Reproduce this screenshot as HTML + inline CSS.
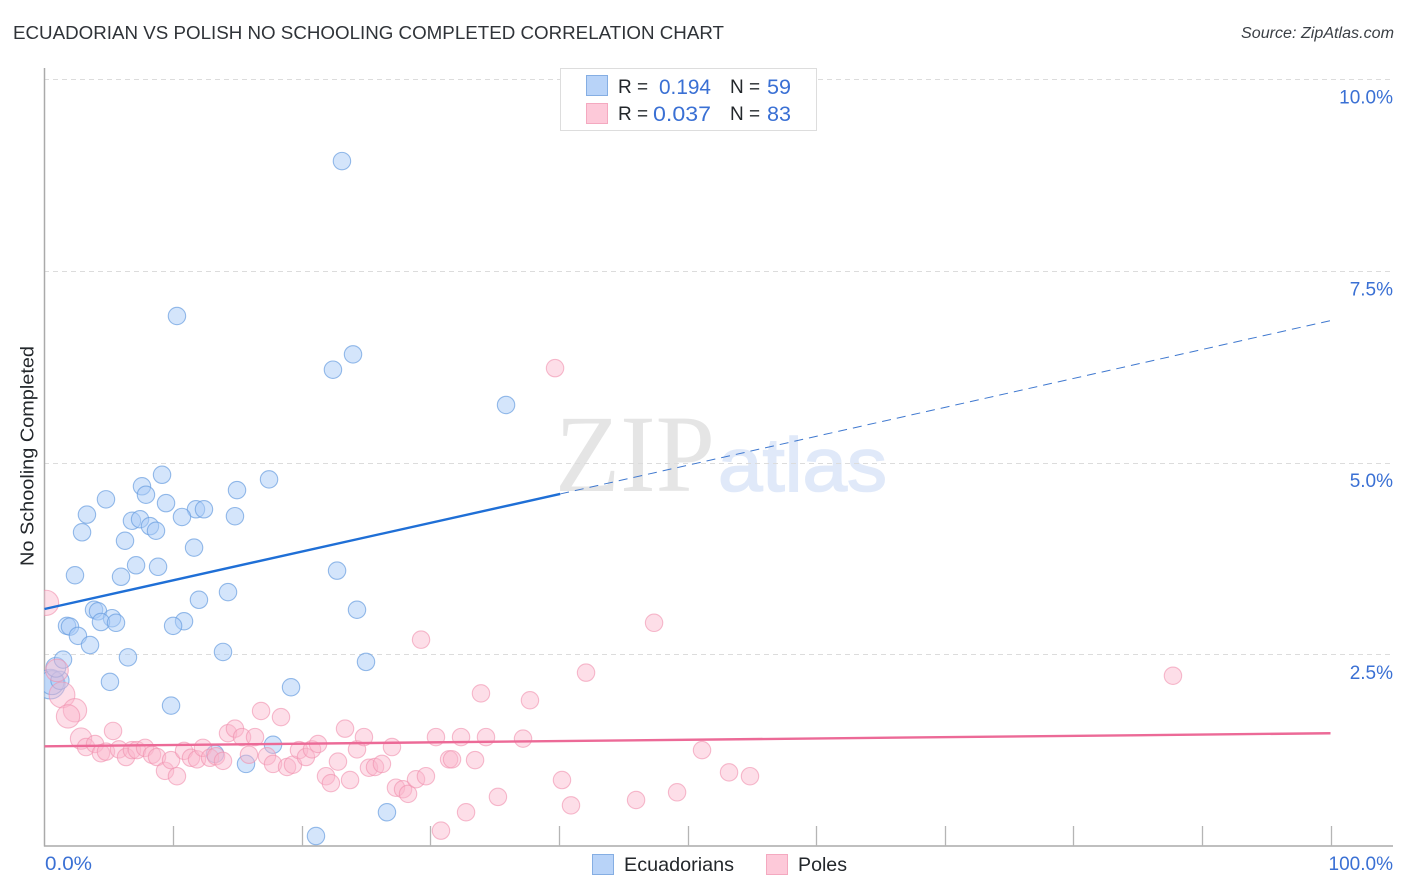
<!DOCTYPE html>
<html lang="en">
<head>
<meta charset="utf-8">
<title>Ecuadorian vs Polish No Schooling Completed Correlation Chart</title>
<style>
html,body{margin:0;padding:0;background:#fff;width:1406px;height:892px;overflow:hidden}
svg{display:block;font-family:"Liberation Sans",sans-serif}
</style>
</head>
<body>
<svg id="chart" width="1406" height="892" viewBox="0 0 1406 892" xmlns="http://www.w3.org/2000/svg">
  <defs>
    <clipPath id="plot-clip"><rect x="44" y="60" width="1360" height="786"/></clipPath>
  </defs>
  <text x="13" y="39" font-size="18.5" fill="#2f3338" textLength="711" lengthAdjust="spacingAndGlyphs">ECUADORIAN VS POLISH NO SCHOOLING COMPLETED CORRELATION CHART</text>
  <text x="1241" y="38" font-size="15.5" font-style="italic" fill="#3a3f45" textLength="153" lengthAdjust="spacingAndGlyphs">Source: ZipAtlas.com</text>
  <g>
    <text x="555" y="491" font-family="'Liberation Serif',serif" font-size="110" fill="#e5e5e5" textLength="160" lengthAdjust="spacingAndGlyphs">ZIP</text>
    <text x="718" y="491" font-size="76" fill="#e0e9f9" stroke="#e0e9f9" stroke-width="1.6" textLength="169" lengthAdjust="spacingAndGlyphs">atlas</text>
  </g>
  <g id="grid"></g>
  <g id="axes"></g>
  <g id="pts-blue" clip-path="url(#plot-clip)"></g>
  <g id="pts-pink" clip-path="url(#plot-clip)"></g>
  <g id="trends"></g>
  <g id="labels"></g>
  <text transform="translate(33.5,566) rotate(-90)" font-size="18.5" fill="#23272b" textLength="220" lengthAdjust="spacingAndGlyphs">No Schooling Completed</text>

  <g>
    <rect x="560.5" y="68.5" width="256" height="62" fill="#fff" stroke="#dddddd"/>
    <rect x="586.5" y="75.5" width="21" height="20" fill="#b8d3f8" stroke="#85aee3"/>
    <rect x="586.5" y="103.5" width="21" height="20" fill="#fdc9d9" stroke="#f4a9c0"/>
    <g font-size="19" fill="#23272b">
      <text x="618" y="93">R =</text>
      <text x="730" y="93">N =</text>
      <text x="618" y="120">R =</text>
      <text x="730" y="120">N =</text>
    </g>
    <g font-size="21" fill="#3a70d4">
      <text x="659" y="94" textLength="52" lengthAdjust="spacingAndGlyphs">0.194</text>
      <text x="767" y="94" textLength="24" lengthAdjust="spacingAndGlyphs">59</text>
      <text x="653" y="121" textLength="58" lengthAdjust="spacingAndGlyphs">0.037</text>
      <text x="767" y="121" textLength="24" lengthAdjust="spacingAndGlyphs">83</text>
    </g>
  </g>

  <g>
    <g>
      <rect x="592.5" y="854.5" width="21" height="20" fill="#b8d3f8" stroke="#85aee3"/>
      <text x="624" y="871" font-size="19.5" fill="#23272b" textLength="110" lengthAdjust="spacingAndGlyphs">Ecuadorians</text>
    </g>
    <g>
      <rect x="766.5" y="854.5" width="21" height="20" fill="#fdc9d9" stroke="#f4a9c0"/>
      <text x="798" y="871" font-size="19.5" fill="#23272b" textLength="49" lengthAdjust="spacingAndGlyphs">Poles</text>
    </g>
  </g>
</svg>
<script>
const yTickValues = [2.5, 5, 7.5, 10];
const yTickLabels = ["2.5%", "5.0%", "7.5%", "10.0%"];
const xTickValues = [10, 20, 30, 40, 50, 60, 70, 80, 90, 100];
const xEndLabels = ["0.0%", "100.0%"];

const ecuadorianX = [0.45,0.58,1.2,0.89,1.44,23.13,10.30,23.99,22.43,35.89,9.14,17.46,7.58,14.97,7.89,4.78,9.45,11.78,12.40,3.30,14.81,10.69,6.80,7.43,8.20,8.67,2.92,6.26,11.63,7.12,8.83,2.37,5.95,22.75,14.27,12.01,24.30,3.85,4.16,5.25,4.39,5.56,10.85,10.0,1.75,1.98,2.60,3.54,6.49,13.88,25.0,5.09,19.17,9.84,13.26,17.77,15.67,26.63,21.11];
const ecuadorianY = [2.11,2.13,2.16,2.33,2.43,8.93,6.91,6.41,6.21,5.75,4.84,4.78,4.69,4.64,4.58,4.52,4.47,4.39,4.39,4.32,4.30,4.29,4.24,4.26,4.17,4.11,4.09,3.98,3.89,3.66,3.64,3.53,3.51,3.59,3.31,3.21,3.08,3.08,3.06,2.97,2.92,2.91,2.93,2.87,2.87,2.86,2.74,2.62,2.46,2.53,2.40,2.14,2.07,1.83,1.20,1.32,1.07,0.44,0.13];
const ecuadorianWeight = [2.9,1.9,1.1,1.3];

const polishX = [0.12,1.36,2.37,1.83,2.84,0.97,39.70,47.40,29.28,42.11,87.75,33.94,37.75,16.84,18.39,5.33,3.23,3.93,4.39,4.78,5.79,6.34,6.80,7.19,7.82,8.36,8.75,9.37,9.84,10.30,10.85,11.39,11.86,12.32,12.87,13.34,13.88,14.27,14.81,15.36,15.90,16.37,17.30,17.77,18.86,19.32,19.79,20.33,20.80,21.27,21.89,22.27,22.82,23.37,23.76,24.30,24.84,25.23,25.70,26.24,27.02,27.33,27.88,28.27,28.89,29.66,30.44,30.83,31.46,31.69,32.39,32.78,33.48,34.33,35.26,37.21,40.24,40.94,46.0,49.19,51.13,53.23,54.86];
const polishY = [3.17,1.97,1.77,1.69,1.40,2.29,6.23,2.91,2.69,2.26,2.22,1.99,1.90,1.76,1.68,1.50,1.29,1.33,1.21,1.23,1.26,1.16,1.25,1.25,1.28,1.19,1.16,0.98,1.12,0.91,1.24,1.15,1.13,1.28,1.15,1.17,1.11,1.47,1.53,1.42,1.19,1.42,1.17,1.07,1.03,1.06,1.25,1.16,1.26,1.33,0.91,0.82,1.10,1.53,0.86,1.26,1.42,1.02,1.03,1.07,1.29,0.76,0.74,0.68,0.87,0.91,1.42,0.20,1.13,1.13,1.42,0.44,1.12,1.42,0.64,1.40,0.86,0.53,0.60,0.70,1.25,0.96,0.91];
const polishWeight = [2.1,2.2,1.8,1.8,1.5,1.7];

const ecuadorianTrendX = [0, 40.1, 100];
const ecuadorianTrendY = [3.09, 4.59, 6.85];
const polishTrendX = [0, 100];
const polishTrendY = [1.30, 1.47];

const NS = "http://www.w3.org/2000/svg";
const xScale = v => 44.5 + v * 12.86;
const yScale = v => 846 - v * 76.7;
const radius = w => 8.7 * Math.sqrt(w || 1);

function make(tag, attrs, parent) {
  const el = document.createElementNS(NS, tag);
  for (const k in attrs) el.setAttribute(k, attrs[k]);
  parent.appendChild(el);
  return el;
}

const gridG = document.getElementById("grid");
const axesG = document.getElementById("axes");
const labelsG = document.getElementById("labels");

yTickValues.forEach((v, i) => {
  const y = Math.round(yScale(v)) + 0.5;
  const line = make("line", {x1: 44, x2: 1393, y1: y, y2: y, stroke: "#dcdcdc", "stroke-width": 1, "stroke-dasharray": "5 4"}, gridG);
  
  
  const t = make("text", {x: 1393, y: yScale(v) + 24.5, "text-anchor": "end", "font-size": 19, fill: "#3a70d4"}, labelsG);
  t.textContent = yTickLabels[i];
  
  
});

const yAxis = make("line", {x1: 44.5, x2: 44.5, y1: 68, y2: 846.5, stroke: "#aaaaaa", "stroke-width": 1.5}, axesG);


const xAxis = make("line", {x1: 44, x2: 1393, y1: 846, y2: 846, stroke: "#aaaaaa", "stroke-width": 1.5}, axesG);



xTickValues.forEach(v => {
  const x = Math.round(xScale(v)) + 0.5;
  const tick = make("line", {x1: x, x2: x, y1: 826, y2: 846, stroke: "#b5b5b5", "stroke-width": 1.3}, axesG);
  
  
});

const xLabelLeft = make("text", {x: 45, y: 870, "font-size": 19, fill: "#3a70d4", textLength: 47, lengthAdjust: "spacingAndGlyphs"}, labelsG);
xLabelLeft.textContent = xEndLabels[0];


const xLabelRight = make("text", {x: 1393, y: 870, "text-anchor": "end", "font-size": 19, fill: "#3a70d4"}, labelsG);
xLabelRight.textContent = xEndLabels[1];



const blueG = document.getElementById("pts-blue");
ecuadorianX.forEach((v, i) => {
  const c = make("circle", {cx: xScale(v), cy: yScale(ecuadorianY[i]), r: radius(ecuadorianWeight[i]), fill: "#a9cbf7", "fill-opacity": 0.5, stroke: "#6a9ee0", "stroke-opacity": 0.7, "stroke-width": 1.1}, blueG);
  
  
});

const pinkG = document.getElementById("pts-pink");
polishX.forEach((v, i) => {
  const c = make("circle", {cx: xScale(v), cy: yScale(polishY[i]), r: radius(polishWeight[i]), fill: "#fbb6cb", "fill-opacity": 0.45, stroke: "#f08fae", "stroke-opacity": 0.6, "stroke-width": 1.1}, pinkG);
  
  
});

const trendsG = document.getElementById("trends");
const blueSolid = make("line", {x1: xScale(ecuadorianTrendX[0]), y1: yScale(ecuadorianTrendY[0]), x2: xScale(ecuadorianTrendX[1]), y2: yScale(ecuadorianTrendY[1]), stroke: "#1f6fd6", "stroke-width": 2.4}, trendsG);


const blueDash = make("line", {x1: xScale(ecuadorianTrendX[1]), y1: yScale(ecuadorianTrendY[1]), x2: xScale(ecuadorianTrendX[2]), y2: yScale(ecuadorianTrendY[2]), stroke: "#3f78cf", "stroke-width": 1, "stroke-dasharray": "9 6"}, trendsG);


const pinkLine = make("line", {x1: xScale(polishTrendX[0]), y1: yScale(polishTrendY[0]), x2: xScale(polishTrendX[1]), y2: yScale(polishTrendY[1]), stroke: "#ec6a97", "stroke-width": 2.4}, trendsG);


</script>
</body>
</html>
